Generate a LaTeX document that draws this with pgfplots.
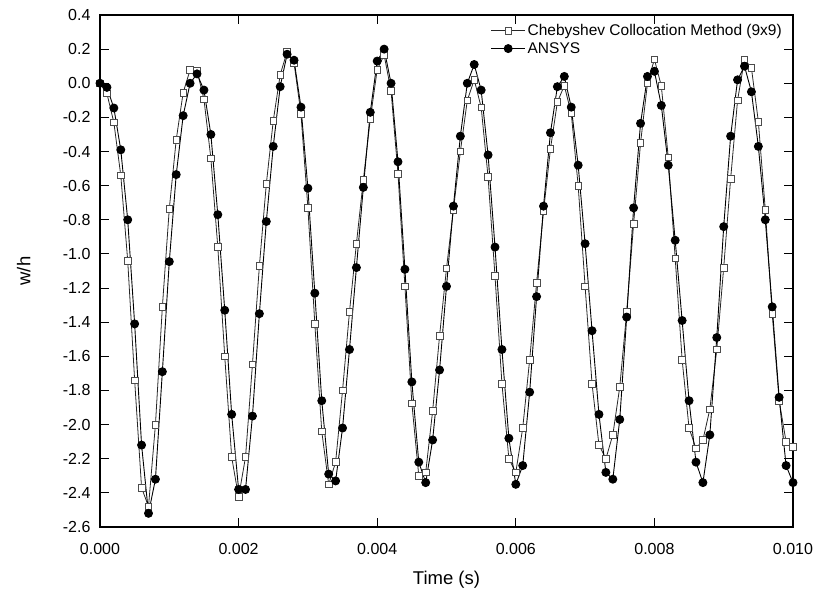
\documentclass[border=0pt]{standalone}
\usepackage{fontspec}
\setmainfont{Liberation Sans}
\usepackage{pgfplots}
\pgfplotsset{compat=1.18}
\usepackage{pgfplotstable}

\pgfplotstableread{
t w
0.0 0.00
0.1 -0.06
0.2 -0.23
0.3 -0.54
0.4 -1.04
0.5 -1.74
0.6 -2.37
0.7 -2.48
0.8 -2.00
0.9 -1.31
1.0 -0.735
1.1 -0.33
1.2 -0.055
1.3 0.078
1.4 0.074
1.5 -0.094
1.6 -0.44
1.7 -0.96
1.8 -1.60
1.9 -2.19
2.0 -2.425
2.1 -2.19
2.2 -1.646
2.3 -1.07
2.4 -0.59
2.5 -0.22
2.6 0.05
2.7 0.185
2.8 0.12
2.9 -0.18
3.0 -0.73
3.1 -1.41
3.2 -2.04
3.3 -2.35
3.4 -2.22
3.5 -1.80
3.6 -1.34
3.7 -0.94
3.8 -0.567
3.9 -0.21
4.0 0.08
4.1 0.165
4.2 -0.045
4.3 -0.53
4.4 -1.19
4.5 -1.875
4.6 -2.30
4.7 -2.28
4.8 -1.92
4.9 -1.48
5.0 -1.084
5.1 -0.74
5.2 -0.40
5.3 -0.10
5.4 0.02
5.5 -0.14
5.6 -0.55
5.7 -1.13
5.8 -1.76
5.9 -2.20
6.0 -2.28
6.1 -2.02
6.2 -1.62
6.3 -1.17
6.4 -0.75
6.5 -0.385
6.6 -0.11
6.7 -0.014
6.8 -0.176
6.9 -0.60
7.0 -1.19
7.1 -1.76
7.2 -2.12
7.3 -2.20
7.4 -2.06
7.5 -1.78
7.6 -1.34
7.7 -0.824
7.8 -0.35
7.9 0.00
8.0 0.14
8.1 -0.016
8.2 -0.434
8.3 -1.025
8.4 -1.62
8.5 -2.02
8.6 -2.14
8.7 -2.09
8.8 -1.91
8.9 -1.56
9.0 -1.08
9.1 -0.56
9.2 -0.10
9.3 0.14
9.4 0.09
9.5 -0.225
9.6 -0.74
9.7 -1.35
9.8 -1.86
9.9 -2.10
10.0 -2.13
}\cheb

\pgfplotstableread{
t w
0.0 0.00
0.1 -0.024
0.2 -0.145
0.3 -0.39
0.4 -0.80
0.5 -1.41
0.6 -2.12
0.7 -2.52
0.8 -2.32
0.9 -1.69
1.0 -1.045
1.1 -0.535
1.2 -0.19
1.3 0.00
1.4 0.055
1.5 -0.04
1.6 -0.30
1.7 -0.77
1.8 -1.33
1.9 -1.94
2.0 -2.38
2.1 -2.38
2.2 -1.95
2.3 -1.35
2.4 -0.81
2.5 -0.37
2.6 -0.02
2.7 0.17
2.8 0.135
2.9 -0.14
3.0 -0.615
3.1 -1.23
3.2 -1.86
3.3 -2.29
3.4 -2.33
3.5 -2.02
3.6 -1.56
3.7 -1.08
3.8 -0.61
3.9 -0.17
4.0 0.13
4.1 0.20
4.2 0.00
4.3 -0.46
4.4 -1.09
4.5 -1.75
4.6 -2.22
4.7 -2.34
4.8 -2.09
4.9 -1.68
5.0 -1.19
5.1 -0.72
5.2 -0.31
5.3 0.00
5.4 0.11
5.5 -0.04
5.6 -0.42
5.7 -0.96
5.8 -1.56
5.9 -2.08
6.0 -2.35
6.1 -2.24
6.2 -1.81
6.3 -1.25
6.4 -0.72
6.5 -0.29
6.6 -0.02
6.7 0.04
6.8 -0.14
6.9 -0.48
7.0 -0.94
7.1 -1.45
7.2 -1.94
7.3 -2.28
7.4 -2.32
7.5 -1.97
7.6 -1.37
7.7 -0.73
7.8 -0.235
7.9 0.04
8.0 0.07
8.1 -0.13
8.2 -0.48
8.3 -0.92
8.4 -1.39
8.5 -1.86
8.6 -2.22
8.7 -2.34
8.8 -2.06
8.9 -1.49
9.0 -0.84
9.1 -0.31
9.2 0.02
9.3 0.10
9.4 -0.05
9.5 -0.37
9.6 -0.80
9.7 -1.31
9.8 -1.84
9.9 -2.24
10.0 -2.34
}\ansys

\begin{document}
\begin{tikzpicture}[x=1pt,y=1pt]
\path[use as bounding box] (-100,-80) rectangle (722,527);
\begin{axis}[
  at={(0,0)}, anchor=south west,
  scale only axis, width=693pt, height=512pt,
  xmin=0, xmax=10, ymin=-2.6, ymax=0.4,
  xtick={0,2,4,6,8,10},
  xticklabels={0.000,0.002,0.004,0.006,0.008,0.010},
  ytick={-2.6,-2.4,-2.2,-2.0,-1.8,-1.6,-1.4,-1.2,-1.0,-0.8,-0.6,-0.4,-0.2,0.0,0.2,0.4},
  yticklabel style={/pgf/number format/fixed,/pgf/number format/precision=1,/pgf/number format/fixed zerofill, xshift=-6pt},
  xticklabel style={yshift=-13pt},
  /pgf/number format/assume math mode=true,
  tick align=inside, major tick length=9pt,
  tick style={line width=1pt,black},
  axis line style={line width=1.3pt},
  ticklabel style={font=\fontsize{16}{16}\selectfont},
  xlabel={Time (s)}, ylabel={w/h},
  label style={font=\fontsize{18.5}{18.5}\selectfont},
  xlabel style={at={(axis description cs:0.5,-0.103)}, anchor=center},
  ylabel style={at={(axis description cs:-0.11,0.5)}, anchor=center},
  legend style={at={(1,1)},anchor=north east, xshift=-9pt, yshift=-7pt, draw=none,fill=none,
    font=\fontsize{15.5}{15.5}\selectfont, row sep=1.5pt, inner sep=0pt},
  legend cell align=left,
  legend image code/.code={\draw[mark repeat=2,mark phase=2,#1] plot coordinates {(0pt,0pt)(17pt,0pt)(34pt,0pt)};},
]
\addplot[black!85, line width=0.8pt, mark=square*, mark size=3.3pt,
  mark options={fill=white, draw=black!70, line width=0.7pt, solid}] table {\cheb};
\addlegendentry{Chebyshev Collocation Method (9x9)}
\addplot[black, line width=0.9pt, mark=*, mark size=4pt, mark options={fill=black}] table {\ansys};
\addlegendentry{ANSYS}
\end{axis}
\end{tikzpicture}
\end{document}
